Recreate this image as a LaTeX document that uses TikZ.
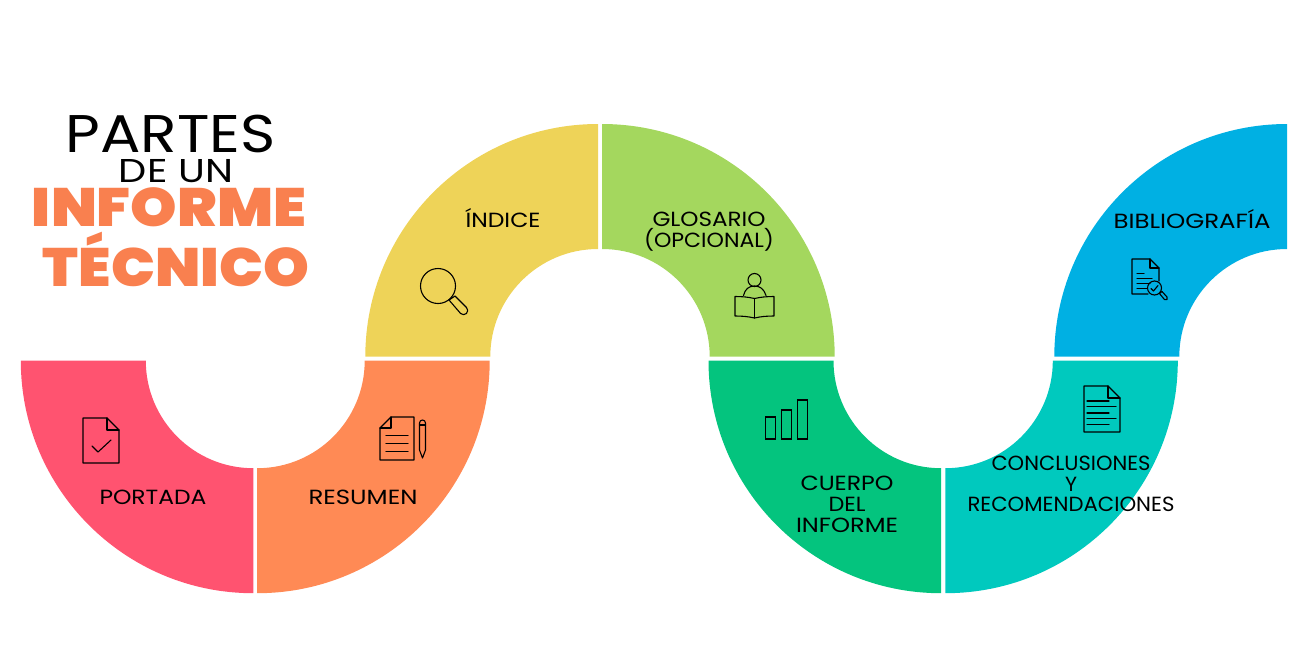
\documentclass[tikz,border=0pt]{standalone}
\usepackage{fontspec}
\usepackage{graphicx}
\setmainfont{Poppins}
\newfontfamily\blackf{Poppins Black}
\definecolor{cred}{HTML}{FF5370}
\definecolor{corange}{HTML}{FF8A55}
\definecolor{cyellow}{HTML}{EED358}
\definecolor{clime}{HTML}{A4D75E}
\definecolor{cgreen}{HTML}{04C47E}
\definecolor{cteal}{HTML}{00C9BE}
\definecolor{cblue}{HTML}{00B0E3}
\definecolor{ctitle}{HTML}{F9804F}
\newcommand\sector[7]{%
  \fill[#1] ([shift={(#4:#6pt)}]#2pt,-#3pt) arc[start angle=#4,end angle=#5,radius=#6pt]
    -- ([shift={(#5:#7pt)}]#2pt,-#3pt) arc[start angle=#5,end angle=#4,radius=#7pt] -- cycle;}
\newcommand\fitw[2]{\resizebox{#1pt}{\height}{#2}}
\tikzset{
  lbl/.style={anchor=base,inner sep=0pt,font=\fontsize{20.5}{20.5}\selectfont,text=black},
  ttl/.style={anchor=base,inner sep=0pt},
  ico/.style={draw=black,line width=1.1pt,line join=round,line cap=round},
}
\begin{document}
\begin{tikzpicture}[x=1pt,y=-1pt]
\useasboundingbox (0,0) rectangle (1313,648);
\sector{cred}{253.3}{360.7}{180}{270}{232.5}{107.5}
\sector{corange}{257.2}{360.7}{270}{360}{232.5}{107.5}
\sector{cyellow}{598}{356.7}{90}{180}{232.7}{107.7}
\sector{clime}{602}{356.7}{0}{90}{232.7}{107.7}
\sector{cgreen}{941}{360.7}{180}{270}{232.5}{107.5}
\sector{cteal}{945.3}{360.7}{270}{360}{232.5}{107.5}
\sector{cblue}{1287}{356.7}{90}{180}{232.7}{107.7}
% title
\node[ttl,font=\fontsize{53}{53}\selectfont] (t1) at (170.5,152) {\fitw{210}{PARTES}};
\node[ttl,font=\fontsize{33}{33}\selectfont] (t2) at (176,182) {\fitw{114}{DE UN}};
\node[ttl,text=ctitle,font=\blackf\fontsize{54}{54}\selectfont] (t3) at (169,226) {\fitw{274}{INFORME}};
\node[ttl,text=ctitle,font=\blackf\fontsize{54}{54}\selectfont] (t4) at (176,286) {\fitw{266}{TÉCNICO}};
% labels
\node[lbl] (portada) at (153,504) {\fitw{107}{PORTADA}};
\node[lbl] (resumen) at (363,504) {\fitw{109}{RESUMEN}};
\node[lbl] (indice) at (503,227) {\fitw{75}{ÍNDICE}};
\node[lbl] (glos1) at (709,226) {\fitw{113}{GLOSARIO}};
\node[lbl] (glos2) at (709,247) {\fitw{130}{(OPCIONAL)}};
\node[lbl] (cu1) at (847,490) {\fitw{93}{CUERPO}};
\node[lbl] (cu2) at (847,511) {\fitw{37}{DEL}};
\node[lbl] (cu3) at (847,532) {\fitw{102}{INFORME}};
\node[lbl] (co1) at (1071,470) {\fitw{159}{CONCLUSIONES}};
\node[lbl] (co2) at (1071,491) {\fitw{12}{Y}};
\node[lbl] (co3) at (1071,511.5) {\fitw{207}{RECOMENDACIONES}};
\node[lbl] (bib) at (1192,228) {\fitw{157}{BIBLIOGRAFÍA}};
% portada icon
\draw[ico] (83,418) -- (107,418) -- (119,430) -- (119,463) -- (83,463) -- cycle;
\draw[ico] (107,418) -- (107,430) -- (119,430);
\draw[ico] (92,446) -- (98,452) -- (111,440);
% resumen icon
\draw[ico] (391,417) -- (414,417) -- (414,460) -- (380,460) -- (380,428) -- cycle;
\draw[ico] (391,417) -- (391,428) -- (380,428);
\draw[ico] (386,435.5) -- (408,435.5) (386,443.5) -- (408,443.5) (386,451.5) -- (408,451.5);
\draw[ico] (419.5,423) arc[start angle=180,end angle=0,radius=3pt] -- (425.5,450) -- (422.5,458) -- (419.5,450) -- cycle;
\draw[ico] (419.5,425) -- (425.5,425);
% magnifier
\draw[ico] (438,286) circle[radius=17.5pt];
\draw[ico] (449,300) -- (455,296) -- (466.5,307.5) arc[start angle=45,end angle=-135,radius=4.2pt] -- cycle;
% reader
\draw[ico] (754.5,280) circle[radius=6.5pt];
\draw[ico] (743.5,295.5) .. controls (745,289) and (749,286) .. (754.5,286) .. controls (760,286) and (764,289) .. (766,295.5);
\draw[ico] (754.5,298.5) .. controls (748,297) and (742,296.5) .. (735,296.5) -- (735,316) .. controls (742,316) and (748,316.5) .. (754.5,318)
  .. controls (761,316.5) and (767,316) .. (774,316) -- (774,296.5) .. controls (767,296.5) and (761,297) .. (754.5,298.5) -- cycle;
\draw[ico] (754.5,298.5) -- (754.5,318);
% bars
\draw[ico,line join=miter] (765.5,417) rectangle (775.5,439);
\draw[ico,line join=miter] (781.5,410) rectangle (791.5,439);
\draw[ico,line join=miter] (797.5,400) rectangle (807.5,439);
% bibliografia icon
\draw[ico] (1148,294) -- (1132,294) -- (1132,259) -- (1150,259) -- (1159,268) -- (1159,281);
\draw[ico] (1150,259) -- (1150,268) -- (1159,268);
\draw[ico] (1137,273.5) -- (1144,273.5) (1137,278.5) -- (1152,278.5) (1137,283.5) -- (1150,283.5) (1137,288.5) -- (1147,288.5);
\draw[ico] (1154.5,288) circle[radius=7pt];
\draw[ico] (1151,288.5) -- (1153.5,291) -- (1158,285.5);
\draw[ico] (1159.5,293.5) -- (1162,291.5) -- (1167,297) arc[start angle=45,end angle=-135,radius=1.8pt] -- cycle;
% conclusiones icon
\draw[ico] (1084,386) -- (1108,386) -- (1120,398) -- (1120,432) -- (1084,432) -- cycle;
\draw[ico] (1108,386) -- (1108,398) -- (1120,398);
\draw[ico] (1087,401) -- (1109,401) (1087,406.5) -- (1116,406.5) (1087,413) -- (1109,413) (1087,418.5) -- (1116,418.5) (1087,424.5) -- (1109,424.5);
\end{tikzpicture}
\end{document}
